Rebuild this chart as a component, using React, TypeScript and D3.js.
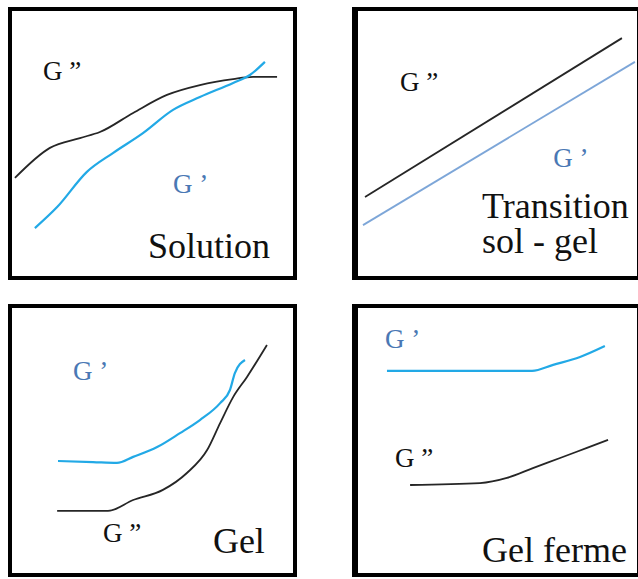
import React, { useEffect, useRef } from "react";
import * as d3 from "d3";

type Pt = [number, number];

// curve values, in a 0-100 unit square per panel (x right, y up)
const solutionGpp: Pt[] = [[2.4, 37.4], [14.5, 48.4], [24.9, 52.0], [31.8, 54.2], [43.3, 61.2], [55.0, 67.8], [66.4, 71.4], [77.9, 73.6], [84.8, 74.4], [93.1, 74.4]];
const solutionGp: Pt[] = [[9.3, 19.0], [17.0, 26.7], [27.3, 39.6], [36.3, 46.5], [46.7, 53.8], [57.1, 62.3], [66.4, 67.0], [77.9, 72.2], [83.7, 75.1], [88.9, 79.9]];

const transitionGpp: Pt[] = [[4.5, 30.4], [93.4, 88.6]];
const transitionGp: Pt[] = [[3.8, 20.1], [97.9, 79.9]];

const gelGp: Pt[] = [[17.3, 42.5], [29.4, 42.1], [37.7, 41.8], [43.3, 44.0], [51.6, 47.6], [59.5, 52.7], [66.4, 57.5], [73.4, 63.7], [76.8, 68.5], [78.5, 74.7], [82.0, 79.5]];
const gelGpp: Pt[] = [[17.0, 24.2], [34.6, 24.2], [43.3, 28.2], [53.6, 31.9], [61.9, 38.1], [68.9, 46.5], [73.4, 56.4], [77.9, 65.9], [82.7, 73.3], [89.6, 85.0]];

const fermeGp: Pt[] = [[12.1, 75.5], [62.3, 75.5], [69.6, 77.7], [78.9, 80.6], [87.5, 84.6]];
const fermeGpp: Pt[] = [[20.1, 33.7], [44.3, 34.4], [53.6, 36.3], [62.6, 39.9], [72.0, 43.6], [81.3, 47.3], [88.6, 50.2]];

const titles: string[][] = [["Solution"], ["Transition", "sol - gel"], ["Gel"], ["Gel ferme"]];

const CYAN = "#22a9e6";
const PALE = "#7da6d8";
const LABEL_BLUE = "#4a78b4";

const panels = [
    { x: 8, y: 7, gp: solutionGp, gpp: solutionGpp, gpColor: CYAN, gpAt: [57.1, 31.9], gppAt: [12.1, 73.3], titleAt: [48.4, 8.1], thickLeft: false },
    { x: 352, y: 7, gp: transitionGp, gpp: transitionGpp, gpColor: PALE, gpAt: [69.6, 41.4], gppAt: [16.6, 69.2], titleAt: [45.0, 22.7], thickLeft: true },
    { x: 8, y: 304, gp: gelGp, gpp: gelGpp, gpColor: CYAN, gpAt: [22.5, 72.2], gppAt: [32.9, 12.8], titleAt: [70.9, 8.8], thickLeft: false },
    { x: 352, y: 304, gp: fermeGp, gpp: fermeGpp, gpColor: CYAN, gpAt: [11.4, 83.9], gppAt: [14.9, 40.3], titleAt: [45.0, 5.5], thickLeft: true },
];

const W = 638;
const H = 579;
const PW = 289;
const PH = 273;
const FONT = "'Liberation Serif', 'Times New Roman', Times, serif";

export default function App() {
    const ref = useRef<SVGSVGElement>(null);

    useEffect(() => {
        const svg = d3.select(ref.current);
        svg.selectAll("*").remove();

        panels.forEach((p, i) => {
            const g = svg.append("g");
            const x = d3.scaleLinear().domain([0, 100]).range([p.x, p.x + PW]);
            const y = d3.scaleLinear().domain([0, 100]).range([p.y + PH, p.y]);

            // frame
            g.append("rect")
                .attr("x", p.x + 2)
                .attr("y", p.y + 2)
                .attr("width", PW - 4)
                .attr("height", PH - 4)
                .attr("fill", "white")
                .attr("stroke", "black")
                .attr("stroke-width", 4);
            if (p.thickLeft) {
                g.append("line")
                    .attr("x1", p.x + 3).attr("x2", p.x + 3)
                    .attr("y1", p.y).attr("y2", p.y + PH)
                    .attr("stroke", "black")
                    .attr("stroke-width", 6);
            }

            const line = d3.line<Pt>()
                .x(d => x(d[0]))
                .y(d => y(d[1]))
                .curve(d3.curveMonotoneX);

            g.append("path")
                .datum(p.gpp)
                .attr("d", line)
                .attr("fill", "none")
                .attr("stroke", "#262626")
                .attr("stroke-width", 1.8)
                .attr("stroke-linejoin", "round");

            g.append("path")
                .datum(p.gp)
                .attr("d", line)
                .attr("fill", "none")
                .attr("stroke", p.gpColor)
                .attr("stroke-width", i === 1 ? 1.8 : 2.2)
                .attr("stroke-linejoin", "round");

            // G' / G'' labels
            g.append("text")
                .attr("x", x(p.gppAt[0]))
                .attr("y", y(p.gppAt[1]))
                .style("font-family", FONT)
                .attr("font-size", 27)
                .attr("fill", "#111")
                .text("G \u201D");
            g.append("text")
                .attr("x", x(p.gpAt[0]))
                .attr("y", y(p.gpAt[1]))
                .style("font-family", FONT)
                .attr("font-size", 27)
                .attr("fill", LABEL_BLUE)
                .text("G \u2019");

            // panel title (one text, lines as tspans)
            const title = g.append("text")
                .attr("x", x(p.titleAt[0]))
                .attr("y", y(p.titleAt[1]))
                .style("font-family", FONT)
                .attr("font-size", 36)
                .attr("fill", "#111");
            titles[i].forEach((t, k) => {
                title.append("tspan")
                    .attr("x", x(p.titleAt[0]))
                    .attr("dy", k === 0 ? 0 : 35)
                    .text(t);
            });
        });
    }, []);

    return (
        <svg
            ref={ref}
            width={W}
            height={H}
            style={{ position: "absolute", left: 0, top: 0, background: "white" }}
        />
    );
}
